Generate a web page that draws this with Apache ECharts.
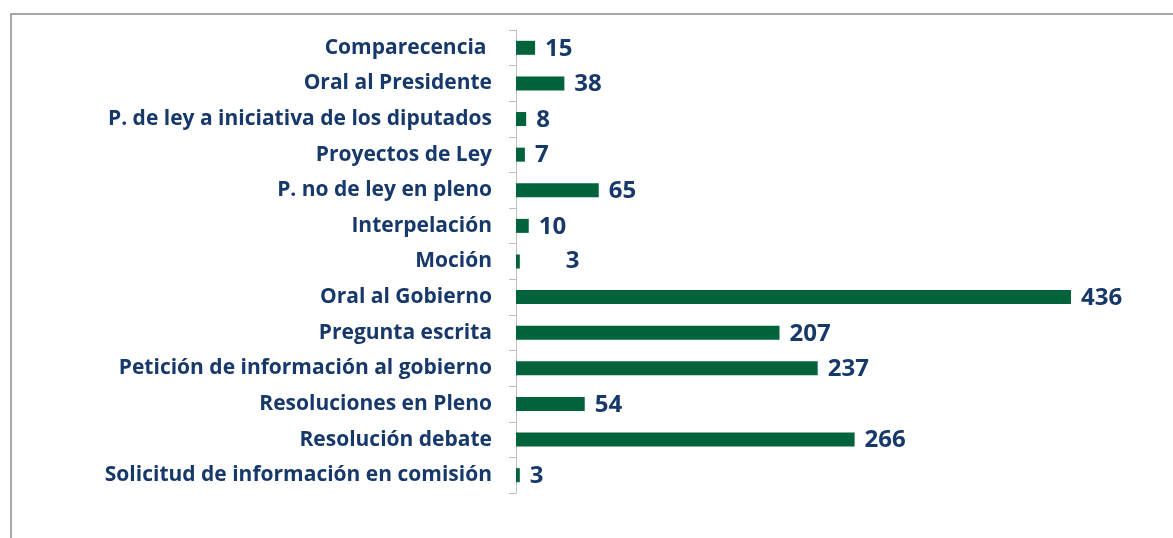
<!DOCTYPE html>
<html><head><meta charset="utf-8">
<script src="https://cdn.jsdelivr.net/npm/echarts@6/dist/echarts.min.js"></script>
<style>html,body{margin:0;padding:0;background:#fff}#c{width:1173px;height:538px}</style>
</head><body><div id="c"></div>
<script>
const categories = [
  "Comparecencia ",
  "Oral al Presidente",
  "P. de ley a iniciativa de los diputados",
  "Proyectos de Ley",
  "P. no de ley en pleno",
  "Interpelación",
  "Moción",
  "Oral al Gobierno",
  "Pregunta escrita",
  "Petición de información al gobierno",
  "Resoluciones en Pleno",
  "Resolución debate",
  "Solicitud de información en comisión"
];
const values = [15, 38, 8, 7, 65, 10, 3, 436, 207, 237, 54, 266, 3];

const navy = '#17386a';
const chart = echarts.init(document.getElementById('c'));
chart.setOption({
  animation: false,
  grid: {left: 516, right: 102, top: 30, bottom: 45, containLabel: false},
  xAxis: {type: 'value', min: 0, max: 436, show: false},
  yAxis: {
    type: 'category', data: categories, inverse: true,
    axisLine: {show: true, lineStyle: {color: '#bfbfbf', width: 1}},
    axisTick: {show: true, length: 7, lineStyle: {color: '#bfbfbf'}},
    axisLabel: {color: navy, fontFamily: 'Open Sans', fontWeight: 'bold', fontSize: 21, margin: 24, padding: [3, 0, 0, 0]}
  },
  series: [{
    type: 'bar', barWidth: 14,
    data: values.map((v, i) => categories[i] === 'Moción' ? {value: v, label: {offset: [36, 0]}} : v),
    itemStyle: {color: '#00633b'},
    label: {show: true, position: 'right', distance: 10, color: navy, fontFamily: 'Open Sans', fontWeight: 'bold', fontSize: 24, offset: [0, 1]}
  }],
  graphic: [{
    type: 'polyline', silent: true,
    shape: {points: [[11, 538], [11, 14], [1173, 14]]},
    style: {stroke: '#8c8c8c', lineWidth: 1.5, fill: null}
  }]
});
</script></body></html>
